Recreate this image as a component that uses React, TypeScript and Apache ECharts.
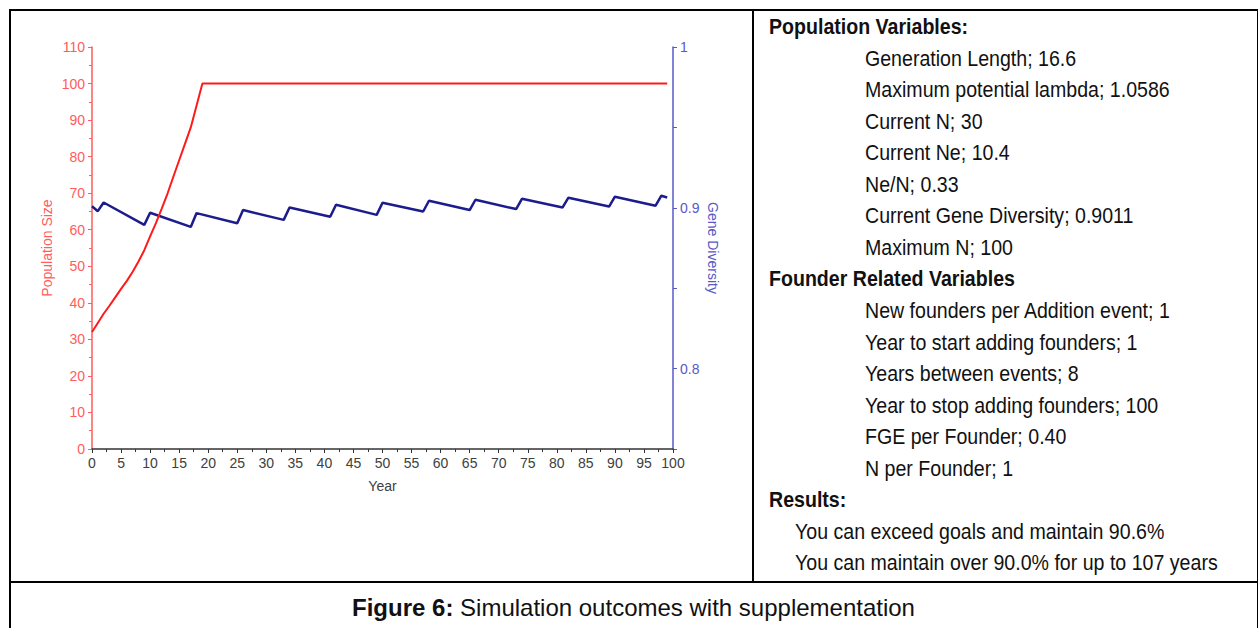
import React, { useEffect, useRef } from "react";
import * as echarts from "echarts";

// ---------- data ----------
const popYears = [0, 1, 2, 3, 4, 5, 6, 7, 8, 9, 10, 11, 12, 13, 14, 15, 16, 17, 18, 19, 99];
const popValues = [32, 34.5, 37, 39.2, 41.5, 43.8, 46, 48.5, 51.3, 54.4, 58.2, 61.8, 65.8, 69.9, 74.5, 79, 83.5, 88, 94, 100, 100];

const geneYears = [0, 1, 2, 9, 10, 17, 18, 25, 26, 33, 34, 41, 42, 49, 50, 57, 58, 65, 66, 73, 74, 81, 82, 89, 90, 97, 98, 99];
const geneValues = [0.901, 0.8979, 0.9033, 0.8894, 0.8969, 0.8881, 0.8967, 0.8904, 0.8986, 0.8925, 0.9002, 0.8944, 0.9019, 0.8956, 0.9031, 0.8977, 0.9044, 0.8986, 0.905, 0.8992, 0.9056, 0.9002, 0.9063, 0.9008, 0.9069, 0.9013, 0.9075, 0.9064];

const popVarsTitle = "Population Variables:";
const popVars = [
  "Generation Length; 16.6",
  "Maximum potential lambda; 1.0586",
  "Current N; 30",
  "Current Ne; 10.4",
  "Ne/N; 0.33",
  "Current Gene Diversity; 0.9011",
  "Maximum N; 100",
];
const founderTitle = "Founder Related Variables";
const founderVars = [
  "New founders per Addition event; 1",
  "Year to start adding founders; 1",
  "Years between events; 8",
  "Year to stop adding founders; 100",
  "FGE per Founder; 0.40",
  "N per Founder; 1",
];
const resultsTitle = "Results:";
const results = [
  "You can exceed goals and maintain 90.6%",
  "You can maintain over 90.0% for up to 107 years",
];

const FONT = "'Liberation Sans', Arial, sans-serif";

export default function App() {
  const ref = useRef<HTMLDivElement>(null);

  useEffect(() => {
    if (!ref.current) return;
    const chart = echarts.init(ref.current, undefined, { renderer: "svg" });
    const red = "#ff5c5c";
    const blue = "#5858c8";
    chart.setOption({
      animation: false,
      textStyle: { fontFamily: FONT },
      grid: { left: 92, top: 47, width: 581, height: 402, containLabel: false },
      xAxis: {
        type: "value",
        min: 0,
        max: 100,
        interval: 5,
        name: "Year",
        nameLocation: "middle",
        nameGap: 30,
        nameTextStyle: { color: "#404040", fontSize: 14, fontFamily: FONT },
        axisLine: { show: true, lineStyle: { color: "#333", width: 1.5 } },
        axisTick: { show: true, length: 4, lineStyle: { color: "#333" } },
        minorTick: { show: true, splitNumber: 2, length: 3, lineStyle: { color: "#333" } },
        axisLabel: { color: "#404040", fontSize: 14, margin: 7, fontFamily: FONT },
        splitLine: { show: false },
      },
      yAxis: [
        {
          type: "value",
          min: 0,
          max: 110,
          interval: 10,
          position: "left",
          name: "Population Size",
          nameLocation: "middle",
          nameGap: 38,
          nameTextStyle: { color: red, fontSize: 14, fontFamily: FONT },
          axisLine: { show: true, lineStyle: { color: red, width: 1.5 } },
          axisTick: { show: true, length: 4, lineStyle: { color: red } },
          minorTick: { show: true, splitNumber: 2, length: 3, lineStyle: { color: red } },
          axisLabel: { color: red, fontSize: 14, margin: 7, fontFamily: FONT },
          splitLine: { show: false },
        },
        {
          type: "value",
          min: 0.75,
          max: 1,
          interval: 0.05,
          position: "right",
          name: "Gene Diversity",
          nameLocation: "middle",
          nameGap: 33,
          nameRotate: -90,
          nameTextStyle: { color: blue, fontSize: 14, fontFamily: FONT },
          axisLine: { show: true, lineStyle: { color: blue, width: 1.5 } },
          axisTick: { show: true, length: 4, lineStyle: { color: blue } },
          axisLabel: {
            color: blue,
            fontSize: 14,
            margin: 7,
            fontFamily: FONT,
            formatter: (v: number) => {
              const t = v * 10;
              if (Math.abs(t - Math.round(t)) > 1e-6) return "";
              if (Math.abs(v - 1) < 1e-9) return "1";
              return v.toFixed(1);
            },
          },
          splitLine: { show: false },
        },
      ],
      series: [
        {
          type: "line",
          yAxisIndex: 1,
          data: geneYears.map((y, i) => [y, geneValues[i]]),
          showSymbol: false,
          lineStyle: { color: "#1c1c8c", width: 2.5 },
          z: 2,
        },
        {
          type: "line",
          yAxisIndex: 0,
          data: popYears.map((y, i) => [y, popValues[i]]),
          showSymbol: false,
          lineStyle: { color: "#ff1a1a", width: 2 },
          z: 3,
        },
      ],
    });
    return () => chart.dispose();
  }, []);

  const centers = [27, 58.6, 90.1, 121.7, 153.2, 184.8, 216.3, 247.9, 279.4, 311, 342.6, 374, 405.6, 437.2, 468.7, 500.3, 531.8, 563.4];
  const lines: { text: string; x: number; bold: boolean }[] = [];
  lines.push({ text: popVarsTitle, x: 769, bold: true });
  popVars.forEach((t) => lines.push({ text: t, x: 865, bold: false }));
  lines.push({ text: founderTitle, x: 769, bold: true });
  founderVars.forEach((t) => lines.push({ text: t, x: 865, bold: false }));
  lines.push({ text: resultsTitle, x: 769, bold: true });
  results.forEach((t) => lines.push({ text: t, x: 795, bold: false }));

  const textStyle: React.CSSProperties = {
    position: "absolute",
    height: 26,
    lineHeight: "26px",
    fontFamily: FONT,
    fontSize: 22,
    color: "#111",
    whiteSpace: "nowrap",
    transform: "scaleX(0.89)",
    transformOrigin: "left center",
  };

  return (
    <div style={{ position: "absolute", left: 0, top: 0, width: 1258, height: 628, background: "#fff", overflow: "hidden" }}>
      <div ref={ref} style={{ position: "absolute", left: 0, top: 0, width: 1258, height: 628 }} />
      {/* table borders */}
      <div style={{ position: "absolute", left: 9, top: 9, width: 1246, height: 640, border: "2px solid #000" }} />
      <div style={{ position: "absolute", left: 752, top: 10, width: 2, height: 572, background: "#000" }} />
      <div style={{ position: "absolute", left: 10, top: 581, width: 1247, height: 2, background: "#000" }} />
      {lines.map((l, i) => (
        <div key={i} style={{ ...textStyle, left: l.x, top: centers[i] - 13, fontWeight: l.bold ? "bold" : "normal" }}>
          {l.text}
        </div>
      ))}
      <div
        style={{
          position: "absolute",
          left: 10,
          width: 1247,
          top: 608 - 15,
          height: 30,
          lineHeight: "30px",
          textAlign: "center",
          fontFamily: FONT,
          fontSize: 24,
          color: "#111",
          whiteSpace: "nowrap",
        }}
      >
        <b>Figure 6:</b> Simulation outcomes with supplementation
      </div>
    </div>
  );
}
